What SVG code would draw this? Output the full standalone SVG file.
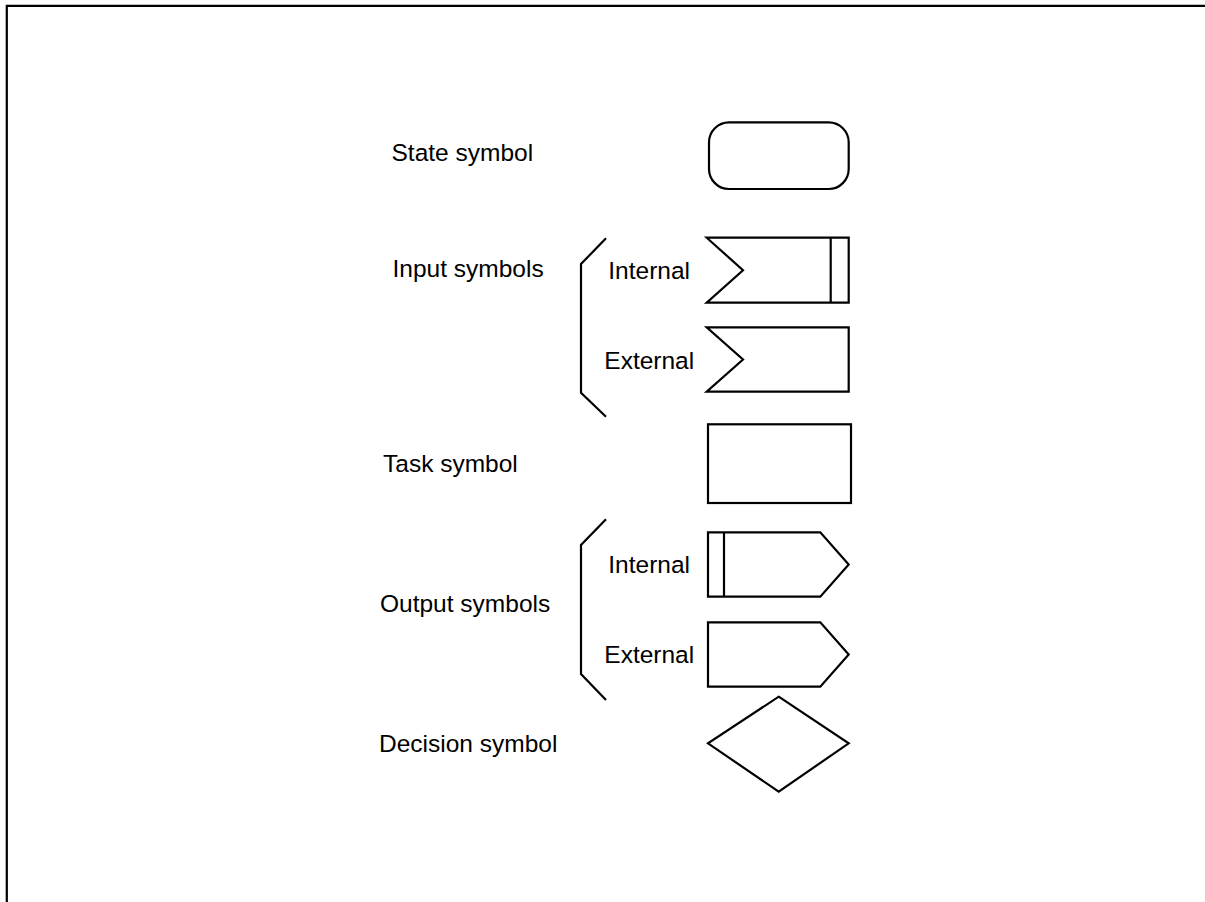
<svg xmlns="http://www.w3.org/2000/svg" width="1205" height="902" viewBox="0 0 1205 902">
<style>
.s{fill:none;stroke:#000;stroke-width:2.2;stroke-linejoin:miter}
.t{font-family:"Liberation Sans",Arial,sans-serif;font-size:24.5px;fill:#000}
</style>
<rect width="1205" height="902" fill="#fff"/>
<path class="s" d="M6.8,902 V5.8 H1205"/>
<g id="labels">
<text class="t" x="391.5" y="161">State symbol</text>
<text class="t" x="392.5" y="277">Input symbols</text>
<text class="t" x="383" y="472">Task symbol</text>
<text class="t" x="380" y="612">Output symbols</text>
<text class="t" x="379" y="752">Decision symbol</text>
</g>
<g id="state"><rect class="s" x="709" y="122.3" width="139.7" height="66.7" rx="20" ry="20"/></g>
<g id="input-bracket"><polyline class="s" points="606,238.3 581,264 581,392.7 606,416.7"/></g>
<g id="input-internal">
<text class="t" x="608.3" y="279">Internal</text>
<polygon class="s" points="706.7,237.7 848.7,237.7 848.7,302.7 706.7,302.7 743,270.2"/>
<line class="s" x1="830.7" y1="237.7" x2="830.7" y2="302.7"/>
</g>
<g id="input-external">
<text class="t" x="604.3" y="368.5">External</text>
<polygon class="s" points="706.7,327.3 848.7,327.3 848.7,391.7 706.7,391.7 743,359.5"/>
</g>
<g id="task"><rect class="s" x="708" y="424.3" width="143" height="78.7"/></g>
<g id="output-bracket"><polyline class="s" points="606,519.3 581,545 581,674 606,700"/></g>
<g id="output-internal">
<text class="t" x="608.3" y="573">Internal</text>
<polygon class="s" points="708,532.3 820.3,532.3 848.7,564.5 820.3,596.7 708,596.7"/>
<line class="s" x1="724" y1="532.3" x2="724" y2="596.7"/>
</g>
<g id="output-external">
<text class="t" x="604.3" y="663">External</text>
<polygon class="s" points="708,622.3 820.3,622.3 848.7,654.5 820.3,686.7 708,686.7"/>
</g>
<g id="decision"><polygon class="s" points="778.7,696.7 848.7,743.3 778.7,791.7 708,743.3"/></g>
<g id="connectors"></g>
</svg>
